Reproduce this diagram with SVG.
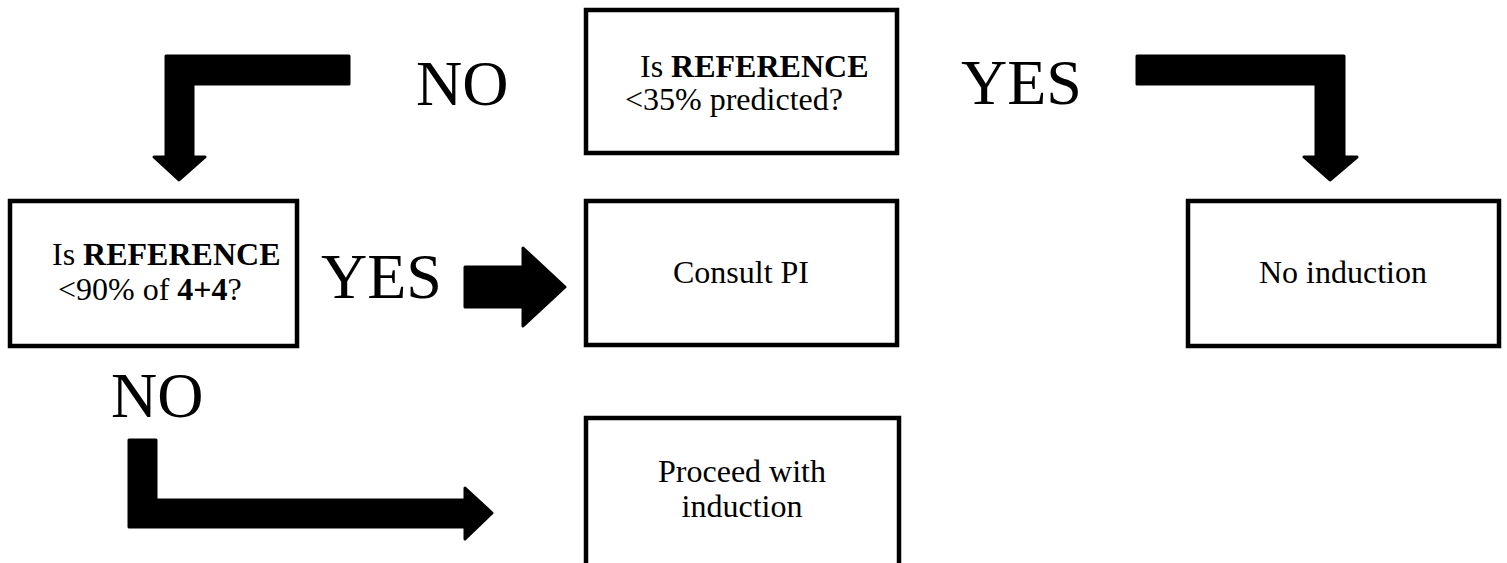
<svg xmlns="http://www.w3.org/2000/svg" width="1507" height="563" viewBox="0 0 1507 563">
<style>
.box{fill:#fff;stroke:#000;stroke-width:4.5}
.t{font-family:"Liberation Serif","Times New Roman",serif;font-size:32px;fill:#000}
.c{text-anchor:middle}
.b{font-weight:bold}
.lbl{font-family:"Liberation Serif","Times New Roman",serif;font-size:64px;fill:#000}
.arr{fill:#000;stroke:#000;stroke-width:3;stroke-linejoin:round}
</style>
<rect width="1507" height="563" fill="#fff"/>
<g id="connectors">
<path class="arr" d="M349,56 L166,56 L166,157 L154,157 L179,180 L205,157 L193,157 L193,84 L349,84 Z"/>
<path class="arr" d="M1137,56 L1344,56 L1344,157 L1357,157 L1330,180 L1304,157 L1316,157 L1316,84 L1137,84 Z"/>
<path class="arr" d="M465,267 L523,267 L523,248 L565,287 L523,326 L523,307 L465,307 Z"/>
<path class="arr" d="M129,440 L156,440 L156,500 L465,500 L465,488 L492,513 L465,539 L465,527 L129,527 Z"/>
<text class="lbl" x="416" y="105">NO</text>
<text class="lbl" x="961" y="104">YES</text>
<text class="lbl" x="321" y="298">YES</text>
<text class="lbl" x="111" y="417">NO</text>
</g>
<g id="q1">
<rect class="box" x="586" y="10" width="311" height="143"/>
<text class="t" x="640" y="77">Is <tspan class="b">REFERENCE</tspan></text>
<text class="t" x="625" y="110">&lt;35% predicted?</text>
</g>
<g id="q2">
<rect class="box" x="10" y="201" width="287" height="145"/>
<text class="t" x="52" y="265">Is <tspan class="b">REFERENCE</tspan></text>
<text class="t" x="58" y="300">&lt;90% of <tspan class="b">4+4</tspan>?</text>
</g>
<g id="consult">
<rect class="box" x="586" y="201" width="311" height="144"/>
<text class="t c" x="741" y="283">Consult PI</text>
</g>
<g id="noinduction">
<rect class="box" x="1188" y="201" width="311" height="145"/>
<text class="t c" x="1343" y="283">No induction</text>
</g>
<g id="proceed">
<rect class="box" x="586" y="418" width="313" height="160"/>
<text class="t c" x="742" y="482">Proceed with</text>
<text class="t c" x="742" y="517">induction</text>
</g>
</svg>
